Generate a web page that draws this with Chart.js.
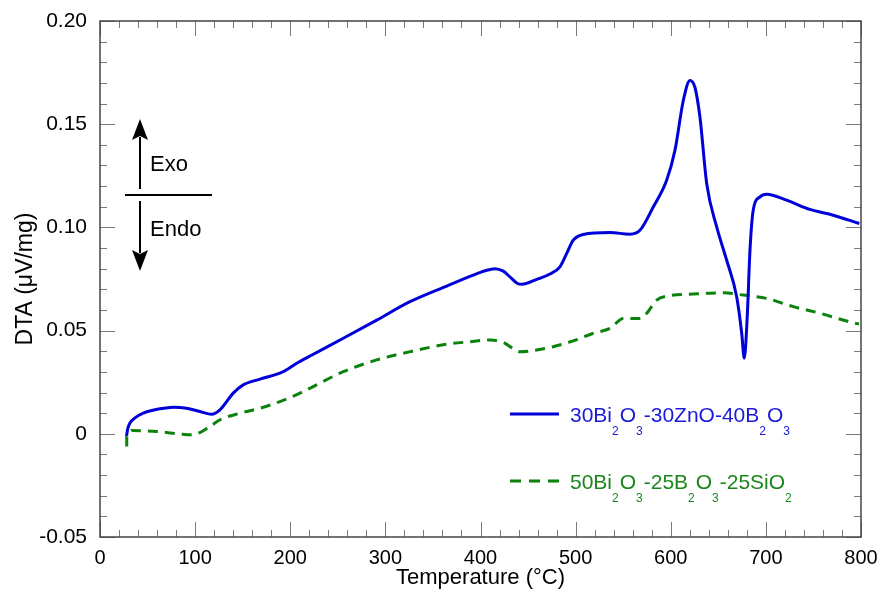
<!DOCTYPE html>
<html>
<head>
<meta charset="utf-8">
<script src="https://cdn.jsdelivr.net/npm/chart.js@4.4.1/dist/chart.umd.min.js"></script>
<style>
  html, body { margin: 0; padding: 0; background: #fff; }
  canvas { display: block; }
</style>
</head>
<body>
<canvas id="dta" width="882" height="594" style="width:882px;height:594px"></canvas>
<script>
// 30Bi2O3-30ZnO-40B2O3 (solid blue)
const tempBlue = [28, 28.9, 31.5, 36.8, 45.5, 63.1, 77.1, 91.1, 105.1, 117.4, 126.1, 140.1, 150.6, 168.2,
  192.7, 206.8, 220.8, 255.8, 290.9, 325.9, 364.5, 392.4, 405, 415, 424, 431, 438, 443.3, 459.1, 473,
  483.5, 490.6, 497.5, 508, 536.1, 557.1, 567.6, 581.6, 595.7, 604.4, 613.2, 620.2, 625.4, 630.7,
  637.8, 648.3, 658.8, 669.3, 674.6, 677.3, 680.4, 683.3, 686.7, 693.8, 700.8, 721.8, 746.3, 770.8, 798.2];
const dtaBlue = [-0.001, 0.002, 0.0052, 0.0077, 0.0100, 0.0121, 0.0129, 0.0124, 0.0108, 0.0095, 0.0116,
  0.0197, 0.0237, 0.0265, 0.0301, 0.0342, 0.0377, 0.0463, 0.0551, 0.0640, 0.0716, 0.0769, 0.0790,
  0.0800, 0.0788, 0.0760, 0.0731, 0.0724, 0.0748, 0.0774, 0.0809, 0.0874, 0.0938, 0.0966, 0.0975, 0.0967,
  0.0986, 0.1099, 0.1228, 0.1373, 0.1615, 0.1712, 0.1679, 0.1534, 0.1212, 0.1002, 0.0841, 0.0664,
  0.0487, 0.0366, 0.0567, 0.0890, 0.1083, 0.1148, 0.1161, 0.1132, 0.1087, 0.1059, 0.1019];

// 50Bi2O3-25B2O3-25SiO2 (dashed green)
const tempGreen = [28.1, 28.1, 33.3, 59.6, 84.1, 94.6, 105.1, 115.6, 126.1, 147.2, 168.2, 189.2, 210.2,
  255.8, 290.9, 325.9, 364.5, 388.9, 410, 423.9, 441.5, 459.1, 476.5, 497.5, 518.6, 536.1, 550.1,
  567.6, 574.7, 585.2, 595.7, 623.7, 655.2, 676.2, 700.8, 728.8, 756.8, 791.9, 797.9];
const dtaGreen = [-0.0061, -0.0013, 0.0016, 0.0011, -0.0001, -0.0005, 0.0006, 0.0035, 0.0068, 0.0100,
  0.0124, 0.0156, 0.0197, 0.0301, 0.0358, 0.0398, 0.0434, 0.0446, 0.0455, 0.0443, 0.0398, 0.0406,
  0.0422, 0.0450, 0.0487, 0.0511, 0.0559, 0.0559, 0.0584, 0.0648, 0.0667, 0.0677, 0.0683, 0.0672,
  0.0656, 0.0616, 0.0584, 0.0538, 0.0532];

// legend labels, [text, isSubscript]
const labelBlue = [['30Bi', 0], ['2', 1], ['O', 0], ['3', 1], ['-30ZnO-40B', 0], ['2', 1], ['O', 0], ['3', 1]];
const labelGreen = [['50Bi', 0], ['2', 1], ['O', 0], ['3', 1], ['-25B', 0], ['2', 1], ['O', 0], ['3', 1],
  ['-25SiO', 0], ['2', 1]];

const xRange = [0, 800], xMajor = 100, xMinor = 20;
const yRange = [-0.05, 0.20], yMajor = 0.05, yMinor = 0.01;

const BLUE = '#0000d8';
const GREEN = '#0b820b';
const FONT = '"Liberation Sans", Arial, sans-serif';

function toPoints(xs, ys) {
  return xs.map((x, i) => ({x: x, y: ys[i]}));
}

// draws text with subscripts, left aligned, baseline at y
function drawRich(ctx, x, y, parts, color) {
  ctx.save();
  ctx.fillStyle = color;
  ctx.textBaseline = 'alphabetic';
  ctx.textAlign = 'left';
  parts.forEach(([txt, sub]) => {
    ctx.font = sub ? '12px ' + FONT : '21px ' + FONT;
    ctx.fillText(txt, x, sub ? y + 13 : y);
    x += ctx.measureText(txt).width + (sub ? 1 : 0);
  });
  ctx.restore();
}

function arrow(ctx, x, y0, y1) {
  // shaft from y0 to tip y1
  const dir = y1 > y0 ? 1 : -1;
  ctx.beginPath();
  ctx.moveTo(x, y0);
  ctx.lineTo(x, y1 - dir * 18);
  ctx.stroke();
  ctx.beginPath();
  ctx.moveTo(x, y1);
  ctx.lineTo(x - 8, y1 - dir * 21);
  ctx.lineTo(x, y1 - dir * 17);
  ctx.lineTo(x + 8, y1 - dir * 21);
  ctx.closePath();
  ctx.fill();
}

const framePlugin = {
  id: 'frameTicks',
  afterDraw(chart) {
    const {ctx, chartArea: a, scales: {x, y}} = chart;
    ctx.save();

    // inward tick marks on all four sides
    ctx.strokeStyle = '#7a7a7a';
    ctx.lineWidth = 1;
    ctx.beginPath();
    for (let v = xRange[0]; v <= xRange[1] + 1e-9; v += xMinor) {
      const px = Math.round(x.getPixelForValue(v)) + 0.5;
      const len = Math.abs(v % xMajor) < 1e-6 ? 15 : 7;
      ctx.moveTo(px, a.bottom); ctx.lineTo(px, a.bottom - len);
      ctx.moveTo(px, a.top); ctx.lineTo(px, a.top + len);
    }
    const nY = Math.round((yRange[1] - yRange[0]) / yMinor);
    for (let i = 0; i <= nY; i++) {
      const v = yRange[0] + i * yMinor;
      const py = Math.round(y.getPixelForValue(v)) + 0.5;
      const len = i % Math.round(yMajor / yMinor) === 0 ? 15 : 7;
      ctx.moveTo(a.left, py); ctx.lineTo(a.left + len, py);
      ctx.moveTo(a.right, py); ctx.lineTo(a.right - len, py);
    }
    ctx.stroke();

    // frame
    ctx.strokeStyle = '#444';
    ctx.lineWidth = 1.5;
    ctx.strokeRect(a.left, a.top, a.right - a.left, a.bottom - a.top);

    // Exo / Endo marker
    ctx.strokeStyle = '#000';
    ctx.fillStyle = '#000';
    ctx.lineWidth = 2;
    ctx.beginPath();
    ctx.moveTo(a.left + 25, 195); ctx.lineTo(a.left + 112, 195);
    ctx.stroke();
    arrow(ctx, a.left + 40, 189, 119);
    arrow(ctx, a.left + 40, 201, 271);
    ctx.font = '22px ' + FONT;
    ctx.textBaseline = 'alphabetic';
    ctx.fillText('Exo', a.left + 50, 171);
    ctx.fillText('Endo', a.left + 50, 236);

    // legend
    ctx.lineWidth = 3;
    ctx.strokeStyle = BLUE;
    ctx.beginPath();
    ctx.moveTo(510, 414); ctx.lineTo(559, 414);
    ctx.stroke();
    ctx.strokeStyle = GREEN;
    ctx.setLineDash([11, 8]);
    ctx.beginPath();
    ctx.moveTo(510, 481); ctx.lineTo(559, 481);
    ctx.stroke();
    ctx.setLineDash([]);
    drawRich(ctx, 570, 422, labelBlue, '#1a1ad8');
    drawRich(ctx, 570, 489, labelGreen, '#1b861b');

    ctx.restore();
  }
};

new Chart(document.getElementById('dta'), {
  type: 'scatter',
  data: {
    datasets: [
      {
        label: '30Bi2O3-30ZnO-40B2O3',
        data: toPoints(tempBlue, dtaBlue),
        showLine: true,
        borderColor: BLUE,
        borderWidth: 3,
        pointRadius: 0,
        cubicInterpolationMode: 'monotone'
      },
      {
        label: '50Bi2O3-25B2O3-25SiO2',
        data: toPoints(tempGreen, dtaGreen),
        showLine: true,
        borderColor: GREEN,
        borderWidth: 3,
        borderDash: [10, 7],
        pointRadius: 0,
        cubicInterpolationMode: 'monotone'
      }
    ]
  },
  options: {
    responsive: false,
    animation: false,
    layout: {padding: {top: 21, right: 21, left: 0, bottom: 0}},
    plugins: {legend: {display: false}, tooltip: {enabled: false}},
    scales: {
      x: {
        type: 'linear',
        min: xRange[0], max: xRange[1],
        grid: {display: false, drawTicks: false},
        border: {display: false},
        ticks: {stepSize: xMajor, padding: 9, color: '#000', font: {family: FONT, size: 20}, maxRotation: 0},
        title: {display: true, text: 'Temperature (°C)', color: '#000', font: {family: FONT, size: 22}, padding: {bottom: 3}},
        afterFit(s) { s.height = 57; s.paddingLeft = 0; s.paddingRight = 0; }
      },
      y: {
        type: 'linear',
        min: yRange[0], max: yRange[1],
        grid: {display: false, drawTicks: false},
        border: {display: false},
        ticks: {
          stepSize: yMajor, padding: 13, color: '#000', font: {family: FONT, size: 21},
          callback: v => Math.abs(v) < 1e-9 ? '0' : v.toFixed(2)
        },
        title: {display: true, text: 'DTA (μV/mg)', color: '#000', font: {family: FONT, size: 23}, padding: {top: 12}},
        afterFit(s) { s.width = 100; s.paddingTop = 0; s.paddingBottom = 0; }
      }
    }
  },
  plugins: [framePlugin]
});
</script>
</body>
</html>
